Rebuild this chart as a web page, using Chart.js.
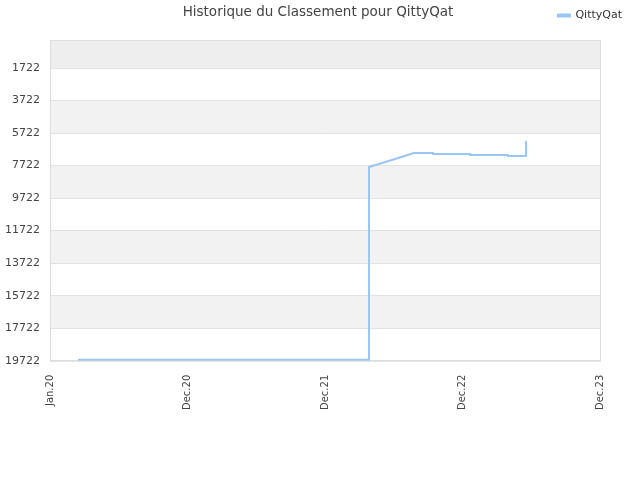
<!DOCTYPE html>
<html>
<head>
<meta charset="utf-8">
<script src="https://cdn.jsdelivr.net/npm/chart.js@4"></script>
<style>
  body { margin: 0; background: #fff; }
  #wrap { width: 640px; height: 480px; }
</style>
</head>
<body>
<div id="wrap"><canvas id="rankChart"></canvas></div>
<script>
// x positions in axis units (0 = Jan.20, 1 = Dec.20, ... 4 = Dec.23)
const xLabels = ['Jan.20', 'Dec.20', 'Dec.21', 'Dec.22', 'Dec.23'];
const dayPos = [0.204, 2.32, 2.32, 2.48, 2.647, 2.785, 2.785, 3.055, 3.055, 3.33, 3.33, 3.462, 3.462];
const rankValues = [19660, 19660, 7808, 7390, 6946, 6946, 7007, 7007, 7069, 7069, 7130, 7130, 6206];
const yTicks = [1722, 3722, 5722, 7722, 9722, 11722, 13722, 15722, 17722, 19722];

const points = dayPos.map((x, i) => ({ x: x, y: rankValues[i] }));

// alternating background bands + frame + title
const bandsPlugin = {
    id: 'bands',
    beforeDraw(chart) {
        const { ctx, chartArea, scales } = chart;
        const y = scales.y;
        const edges = [y.min].concat(yTicks);
        ctx.save();
        for (let i = 0; i < edges.length - 1; i++) {
            const top = y.getPixelForValue(edges[i]);
            const bottom = y.getPixelForValue(edges[i + 1]);
            if (i % 2 === 0) {
                ctx.fillStyle = i === 0 ? '#eeeeee' : '#f2f2f2';
                ctx.fillRect(chartArea.left, top, chartArea.right - chartArea.left, bottom - top);
            }
        }
        ctx.strokeStyle = '#dddddd';
        ctx.lineWidth = 1;
        ctx.strokeRect(chartArea.left + 0.5, chartArea.top + 0.5, chartArea.right - chartArea.left, chartArea.bottom - chartArea.top);
        ctx.restore();
    },
    afterDraw(chart) {
        const { ctx } = chart;
        ctx.save();
        ctx.font = '13.5px "DejaVu Sans"';
        ctx.fillStyle = '#444';
        ctx.textAlign = 'center';
        ctx.textBaseline = 'middle';
        ctx.fillText('Historique du Classement pour QittyQat', 318, 12);
        ctx.restore();
    }
};

const legendSpace = {
    id: 'legendSpace',
    beforeInit(chart) {
        const fit = chart.legend.fit;
        chart.legend.fit = function () {
            fit.bind(this)();
            this.height += 9;
        };
    }
};

const ctx = document.getElementById('rankChart').getContext('2d');
const rankChart = new Chart(ctx, {
    type: 'line',
    data: {
        datasets: [{
            label: 'QittyQat',
            data: points,
            borderColor: '#99c6f4',
            backgroundColor: '#99c6f4',
            borderWidth: 2,
            pointRadius: 0,
            tension: 0,
            fill: false
        }]
    },
    options: {
        responsive: true,
        maintainAspectRatio: false,
        animation: false,
        layout: {
            padding: { left: 0, right: 8, top: 0, bottom: 64 }
        },
        plugins: {
            title: { display: false },
            tooltip: { enabled: false },
            legend: {
                position: 'top',
                align: 'end',
                labels: {
                    boxWidth: 12,
                    boxHeight: 2,
                    padding: 10,
                    color: '#333',
                    font: { family: 'DejaVu Sans', size: 11 }
                }
            }
        },
        scales: {
            x: {
                type: 'linear',
                min: 0,
                max: 4,
                grid: { display: false },
                border: { color: '#dddddd' },
                ticks: {
                    stepSize: 1,
                    padding: 6,
                    maxRotation: 90,
                    minRotation: 90,
                    color: '#444',
                    font: { family: 'DejaVu Sans', size: 10 },
                    callback: (v) => xLabels[v]
                }
            },
            y: {
                reverse: true,
                min: 0,
                max: 19722,
                afterBuildTicks: (axis) => {
                    axis.ticks = yTicks.map(v => ({ value: v }));
                },
                afterFit: (axis) => { axis.width = 50; },
                grid: { color: '#e2e2e2', drawTicks: false },
                border: { color: '#dddddd' },
                ticks: {
                    padding: 10,
                    color: '#444',
                    font: { family: 'DejaVu Sans', size: 11 },
                    callback: (v) => v
                }
            },
            spacer: {
                type: 'linear',
                position: 'right',
                afterFit: (axis) => { axis.width = 32; },
                grid: { display: false, drawTicks: false },
                border: { display: false },
                ticks: { display: false }
            }
        }
    },
    plugins: [bandsPlugin, legendSpace]
});
</script>
</body>
</html>
